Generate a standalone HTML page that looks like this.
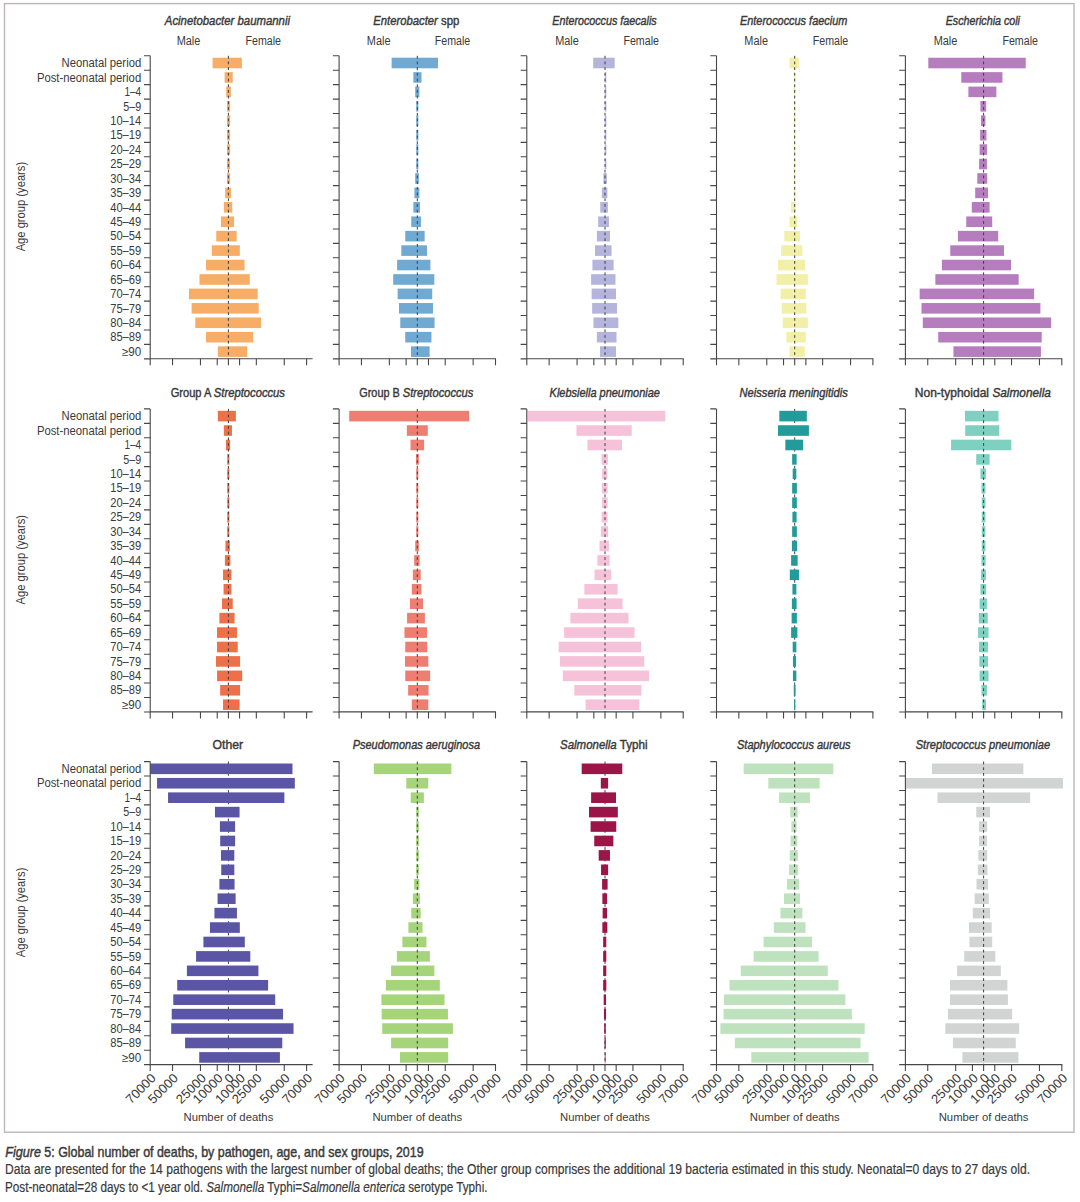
<!DOCTYPE html><html><head><meta charset="utf-8"><style>html,body{margin:0;padding:0;background:#fff;width:1080px;height:1202px;overflow:hidden}svg{display:block}text{font-family:"Liberation Sans",sans-serif;fill:#3a3a3a}.rg{stroke:#3a3a3a;stroke-width:0.25}</style></head><body>
<svg width="1080" height="1202" viewBox="0 0 1080 1202">
<rect x="4.5" y="3.6" width="1069.5" height="1128.6" fill="none" stroke="#BDB6B9" stroke-width="1.4"/>
<rect x="212.58" y="57.71" width="29.34" height="10.60" fill="#F7AD65"/>
<rect x="224.63" y="72.14" width="8.12" height="10.60" fill="#F7AD65"/>
<rect x="226.20" y="86.58" width="4.72" height="10.60" fill="#F7AD65"/>
<rect x="226.99" y="101.01" width="3.14" height="10.60" fill="#F7AD65"/>
<rect x="226.99" y="115.44" width="3.14" height="10.60" fill="#F7AD65"/>
<rect x="226.99" y="129.87" width="3.14" height="10.60" fill="#F7AD65"/>
<rect x="226.99" y="144.29" width="3.14" height="10.60" fill="#F7AD65"/>
<rect x="226.99" y="158.72" width="3.14" height="10.60" fill="#F7AD65"/>
<rect x="226.99" y="173.16" width="3.14" height="10.60" fill="#F7AD65"/>
<rect x="225.16" y="187.59" width="5.76" height="10.60" fill="#F7AD65"/>
<rect x="223.85" y="202.02" width="8.38" height="10.60" fill="#F7AD65"/>
<rect x="220.96" y="216.44" width="13.10" height="10.60" fill="#F7AD65"/>
<rect x="216.25" y="230.87" width="20.43" height="10.60" fill="#F7AD65"/>
<rect x="211.80" y="245.30" width="28.03" height="10.60" fill="#F7AD65"/>
<rect x="206.03" y="259.74" width="38.51" height="10.60" fill="#F7AD65"/>
<rect x="199.48" y="274.17" width="50.29" height="10.60" fill="#F7AD65"/>
<rect x="189.01" y="288.60" width="68.63" height="10.60" fill="#F7AD65"/>
<rect x="191.63" y="303.03" width="67.06" height="10.60" fill="#F7AD65"/>
<rect x="195.29" y="317.46" width="65.75" height="10.60" fill="#F7AD65"/>
<rect x="206.03" y="331.89" width="47.15" height="10.60" fill="#F7AD65"/>
<rect x="217.82" y="346.32" width="29.34" height="10.60" fill="#F7AD65"/>
<line x1="228.40" y1="55.80" x2="228.40" y2="358.80" stroke="#3d3d3d" stroke-width="1" stroke-dasharray="2.8 2.9"/>
<path d="M150.20 55.80V358.80H312.60" fill="none" stroke="#474747" stroke-width="1.1"/>
<path d="M144.00 55.80H150.20M144.00 70.23H150.20M144.00 84.66H150.20M144.00 99.09H150.20M144.00 113.52H150.20M144.00 127.95H150.20M144.00 142.38H150.20M144.00 156.81H150.20M144.00 171.24H150.20M144.00 185.67H150.20M144.00 200.10H150.20M144.00 214.53H150.20M144.00 228.96H150.20M144.00 243.39H150.20M144.00 257.82H150.20M144.00 272.25H150.20M144.00 286.68H150.20M144.00 301.11H150.20M144.00 315.54H150.20M144.00 329.97H150.20M144.00 344.40H150.20M144.00 358.83H150.20M150.20 358.80V365.30M172.54 358.80V365.30M200.47 358.80V365.30M217.23 358.80V365.30M228.40 358.80V365.30M239.57 358.80V365.30M256.33 358.80V365.30M284.26 358.80V365.30M306.60 358.80V365.30" fill="none" stroke="#474747" stroke-width="1.1"/>
<text x="164.80" y="24.60" font-size="12.4" font-weight="normal" font-style="italic" textLength="125.20" lengthAdjust="spacingAndGlyphs" xml:space="preserve" stroke="#3a3a3a" stroke-width="0.42">Acinetobacter baumannii</text>
<text x="176.65" y="44.8" font-size="12" textLength="23.7" lengthAdjust="spacingAndGlyphs">Male</text>
<text x="245.55" y="44.8" font-size="12" textLength="35.5" lengthAdjust="spacingAndGlyphs">Female</text>
<text x="61.50" y="67.22" font-size="12" textLength="79.70" lengthAdjust="spacingAndGlyphs">Neonatal period</text>
<text x="36.90" y="81.64" font-size="12" textLength="104.30" lengthAdjust="spacingAndGlyphs">Post-neonatal period</text>
<text x="124.40" y="96.08" font-size="12" textLength="16.80" lengthAdjust="spacingAndGlyphs">1–4</text>
<text x="123.30" y="110.51" font-size="12" textLength="17.90" lengthAdjust="spacingAndGlyphs">5–9</text>
<text x="110.20" y="124.94" font-size="12" textLength="31.00" lengthAdjust="spacingAndGlyphs">10–14</text>
<text x="110.20" y="139.36" font-size="12" textLength="31.00" lengthAdjust="spacingAndGlyphs">15–19</text>
<text x="110.20" y="153.79" font-size="12" textLength="31.00" lengthAdjust="spacingAndGlyphs">20–24</text>
<text x="110.20" y="168.22" font-size="12" textLength="31.00" lengthAdjust="spacingAndGlyphs">25–29</text>
<text x="110.20" y="182.66" font-size="12" textLength="31.00" lengthAdjust="spacingAndGlyphs">30–34</text>
<text x="110.20" y="197.09" font-size="12" textLength="31.00" lengthAdjust="spacingAndGlyphs">35–39</text>
<text x="110.20" y="211.52" font-size="12" textLength="31.00" lengthAdjust="spacingAndGlyphs">40–44</text>
<text x="110.20" y="225.94" font-size="12" textLength="31.00" lengthAdjust="spacingAndGlyphs">45–49</text>
<text x="110.20" y="240.37" font-size="12" textLength="31.00" lengthAdjust="spacingAndGlyphs">50–54</text>
<text x="110.20" y="254.80" font-size="12" textLength="31.00" lengthAdjust="spacingAndGlyphs">55–59</text>
<text x="110.20" y="269.23" font-size="12" textLength="31.00" lengthAdjust="spacingAndGlyphs">60–64</text>
<text x="110.20" y="283.66" font-size="12" textLength="31.00" lengthAdjust="spacingAndGlyphs">65–69</text>
<text x="110.20" y="298.09" font-size="12" textLength="31.00" lengthAdjust="spacingAndGlyphs">70–74</text>
<text x="110.20" y="312.52" font-size="12" textLength="31.00" lengthAdjust="spacingAndGlyphs">75–79</text>
<text x="110.20" y="326.95" font-size="12" textLength="31.00" lengthAdjust="spacingAndGlyphs">80–84</text>
<text x="110.20" y="341.38" font-size="12" textLength="31.00" lengthAdjust="spacingAndGlyphs">85–89</text>
<text x="121.90" y="355.81" font-size="12" textLength="19.30" lengthAdjust="spacingAndGlyphs">≥90</text>
<text transform="translate(25.4 206.60) rotate(-90)" font-size="12" text-anchor="middle" textLength="89.5" lengthAdjust="spacingAndGlyphs">Age group (years)</text>
<rect x="391.63" y="57.71" width="46.36" height="10.60" fill="#70AAD2"/>
<rect x="413.37" y="72.14" width="8.12" height="10.60" fill="#70AAD2"/>
<rect x="415.20" y="86.58" width="4.19" height="10.60" fill="#70AAD2"/>
<rect x="416.25" y="101.01" width="2.10" height="10.60" fill="#70AAD2"/>
<rect x="416.25" y="115.44" width="2.10" height="10.60" fill="#70AAD2"/>
<rect x="416.25" y="129.87" width="2.10" height="10.60" fill="#70AAD2"/>
<rect x="416.25" y="144.29" width="2.10" height="10.60" fill="#70AAD2"/>
<rect x="416.25" y="158.72" width="2.10" height="10.60" fill="#70AAD2"/>
<rect x="415.20" y="173.16" width="3.67" height="10.60" fill="#70AAD2"/>
<rect x="414.42" y="187.59" width="4.98" height="10.60" fill="#70AAD2"/>
<rect x="413.37" y="202.02" width="6.55" height="10.60" fill="#70AAD2"/>
<rect x="411.27" y="216.44" width="9.69" height="10.60" fill="#70AAD2"/>
<rect x="405.25" y="230.87" width="19.38" height="10.60" fill="#70AAD2"/>
<rect x="401.32" y="245.30" width="25.67" height="10.60" fill="#70AAD2"/>
<rect x="397.13" y="259.74" width="33.27" height="10.60" fill="#70AAD2"/>
<rect x="393.20" y="274.17" width="41.13" height="10.60" fill="#70AAD2"/>
<rect x="397.65" y="288.60" width="34.58" height="10.60" fill="#70AAD2"/>
<rect x="398.96" y="303.03" width="34.05" height="10.60" fill="#70AAD2"/>
<rect x="400.27" y="317.46" width="34.31" height="10.60" fill="#70AAD2"/>
<rect x="405.25" y="331.89" width="26.19" height="10.60" fill="#70AAD2"/>
<rect x="411.01" y="346.32" width="18.60" height="10.60" fill="#70AAD2"/>
<line x1="417.30" y1="55.80" x2="417.30" y2="358.80" stroke="#3d3d3d" stroke-width="1" stroke-dasharray="2.8 2.9"/>
<path d="M339.10 55.80V358.80H496.00" fill="none" stroke="#474747" stroke-width="1.1"/>
<path d="M332.90 55.80H339.10M332.90 70.23H339.10M332.90 84.66H339.10M332.90 99.09H339.10M332.90 113.52H339.10M332.90 127.95H339.10M332.90 142.38H339.10M332.90 156.81H339.10M332.90 171.24H339.10M332.90 185.67H339.10M332.90 200.10H339.10M332.90 214.53H339.10M332.90 228.96H339.10M332.90 243.39H339.10M332.90 257.82H339.10M332.90 272.25H339.10M332.90 286.68H339.10M332.90 301.11H339.10M332.90 315.54H339.10M332.90 329.97H339.10M332.90 344.40H339.10M332.90 358.83H339.10M339.10 358.80V365.30M361.44 358.80V365.30M389.37 358.80V365.30M406.13 358.80V365.30M417.30 358.80V365.30M428.47 358.80V365.30M445.23 358.80V365.30M473.16 358.80V365.30M495.50 358.80V365.30" fill="none" stroke="#474747" stroke-width="1.1"/>
<text x="373.30" y="24.60" font-size="12.4" font-weight="normal" font-style="italic" textLength="64.50" lengthAdjust="spacingAndGlyphs" xml:space="preserve" stroke="#3a3a3a" stroke-width="0.42">Enterobacter</text><text x="437.80" y="24.60" font-size="12.4" font-weight="normal" font-style="normal" textLength="21.50" lengthAdjust="spacingAndGlyphs" xml:space="preserve" stroke="#3a3a3a" stroke-width="0.42"> spp</text>
<text x="366.85" y="44.8" font-size="12" textLength="23.7" lengthAdjust="spacingAndGlyphs">Male</text>
<text x="434.75" y="44.8" font-size="12" textLength="35.5" lengthAdjust="spacingAndGlyphs">Female</text>
<rect x="593.20" y="57.71" width="21.48" height="10.60" fill="#B4B4DC"/>
<rect x="604.73" y="72.14" width="1.57" height="10.60" fill="#B4B4DC"/>
<rect x="604.73" y="86.58" width="1.57" height="10.60" fill="#B4B4DC"/>
<rect x="604.73" y="101.01" width="1.57" height="10.60" fill="#B4B4DC"/>
<rect x="604.73" y="115.44" width="1.57" height="10.60" fill="#B4B4DC"/>
<rect x="604.73" y="129.87" width="1.57" height="10.60" fill="#B4B4DC"/>
<rect x="604.73" y="144.29" width="1.57" height="10.60" fill="#B4B4DC"/>
<rect x="604.73" y="158.72" width="1.57" height="10.60" fill="#B4B4DC"/>
<rect x="603.42" y="173.16" width="3.41" height="10.60" fill="#B4B4DC"/>
<rect x="601.85" y="187.59" width="5.50" height="10.60" fill="#B4B4DC"/>
<rect x="600.27" y="202.02" width="7.60" height="10.60" fill="#B4B4DC"/>
<rect x="598.18" y="216.44" width="10.74" height="10.60" fill="#B4B4DC"/>
<rect x="596.87" y="230.87" width="13.10" height="10.60" fill="#B4B4DC"/>
<rect x="595.03" y="245.30" width="16.50" height="10.60" fill="#B4B4DC"/>
<rect x="592.42" y="259.74" width="21.22" height="10.60" fill="#B4B4DC"/>
<rect x="591.11" y="274.17" width="24.36" height="10.60" fill="#B4B4DC"/>
<rect x="591.63" y="288.60" width="24.36" height="10.60" fill="#B4B4DC"/>
<rect x="592.15" y="303.03" width="24.88" height="10.60" fill="#B4B4DC"/>
<rect x="593.46" y="317.46" width="24.88" height="10.60" fill="#B4B4DC"/>
<rect x="596.87" y="331.89" width="19.65" height="10.60" fill="#B4B4DC"/>
<rect x="600.01" y="346.32" width="15.98" height="10.60" fill="#B4B4DC"/>
<line x1="605.00" y1="55.80" x2="605.00" y2="358.80" stroke="#3d3d3d" stroke-width="1" stroke-dasharray="2.8 2.9"/>
<path d="M526.80 55.80V358.80H683.70" fill="none" stroke="#474747" stroke-width="1.1"/>
<path d="M520.60 55.80H526.80M520.60 70.23H526.80M520.60 84.66H526.80M520.60 99.09H526.80M520.60 113.52H526.80M520.60 127.95H526.80M520.60 142.38H526.80M520.60 156.81H526.80M520.60 171.24H526.80M520.60 185.67H526.80M520.60 200.10H526.80M520.60 214.53H526.80M520.60 228.96H526.80M520.60 243.39H526.80M520.60 257.82H526.80M520.60 272.25H526.80M520.60 286.68H526.80M520.60 301.11H526.80M520.60 315.54H526.80M520.60 329.97H526.80M520.60 344.40H526.80M520.60 358.83H526.80M526.80 358.80V365.30M549.14 358.80V365.30M577.07 358.80V365.30M593.83 358.80V365.30M605.00 358.80V365.30M616.17 358.80V365.30M632.93 358.80V365.30M660.86 358.80V365.30M683.20 358.80V365.30" fill="none" stroke="#474747" stroke-width="1.1"/>
<text x="552.30" y="24.60" font-size="12.4" font-weight="normal" font-style="italic" textLength="104.40" lengthAdjust="spacingAndGlyphs" xml:space="preserve" stroke="#3a3a3a" stroke-width="0.42">Enterococcus faecalis</text>
<text x="555.15" y="44.8" font-size="12" textLength="23.7" lengthAdjust="spacingAndGlyphs">Male</text>
<text x="623.45" y="44.8" font-size="12" textLength="35.5" lengthAdjust="spacingAndGlyphs">Female</text>
<rect x="789.54" y="57.71" width="9.43" height="10.60" fill="#F2F0A6"/>
<rect x="793.73" y="72.14" width="1.57" height="10.60" fill="#F2F0A6"/>
<rect x="793.73" y="86.58" width="1.57" height="10.60" fill="#F2F0A6"/>
<rect x="793.73" y="101.01" width="1.57" height="10.60" fill="#F2F0A6"/>
<rect x="793.73" y="115.44" width="1.57" height="10.60" fill="#F2F0A6"/>
<rect x="793.73" y="129.87" width="1.57" height="10.60" fill="#F2F0A6"/>
<rect x="793.73" y="144.29" width="1.57" height="10.60" fill="#F2F0A6"/>
<rect x="793.73" y="158.72" width="1.57" height="10.60" fill="#F2F0A6"/>
<rect x="793.73" y="173.16" width="1.57" height="10.60" fill="#F2F0A6"/>
<rect x="793.73" y="187.59" width="1.57" height="10.60" fill="#F2F0A6"/>
<rect x="791.11" y="202.02" width="4.72" height="10.60" fill="#F2F0A6"/>
<rect x="789.54" y="216.44" width="7.60" height="10.60" fill="#F2F0A6"/>
<rect x="784.30" y="230.87" width="15.72" height="10.60" fill="#F2F0A6"/>
<rect x="781.15" y="245.30" width="21.22" height="10.60" fill="#F2F0A6"/>
<rect x="778.01" y="259.74" width="26.98" height="10.60" fill="#F2F0A6"/>
<rect x="776.44" y="274.17" width="31.43" height="10.60" fill="#F2F0A6"/>
<rect x="780.63" y="288.60" width="25.15" height="10.60" fill="#F2F0A6"/>
<rect x="781.68" y="303.03" width="24.62" height="10.60" fill="#F2F0A6"/>
<rect x="782.73" y="317.46" width="25.15" height="10.60" fill="#F2F0A6"/>
<rect x="786.39" y="331.89" width="19.38" height="10.60" fill="#F2F0A6"/>
<rect x="789.54" y="346.32" width="15.19" height="10.60" fill="#F2F0A6"/>
<line x1="794.70" y1="55.80" x2="794.70" y2="358.80" stroke="#3d3d3d" stroke-width="1" stroke-dasharray="2.8 2.9"/>
<path d="M716.50 55.80V358.80H873.40" fill="none" stroke="#474747" stroke-width="1.1"/>
<path d="M710.30 55.80H716.50M710.30 70.23H716.50M710.30 84.66H716.50M710.30 99.09H716.50M710.30 113.52H716.50M710.30 127.95H716.50M710.30 142.38H716.50M710.30 156.81H716.50M710.30 171.24H716.50M710.30 185.67H716.50M710.30 200.10H716.50M710.30 214.53H716.50M710.30 228.96H716.50M710.30 243.39H716.50M710.30 257.82H716.50M710.30 272.25H716.50M710.30 286.68H716.50M710.30 301.11H716.50M710.30 315.54H716.50M710.30 329.97H716.50M710.30 344.40H716.50M710.30 358.83H716.50M716.50 358.80V365.30M738.84 358.80V365.30M766.77 358.80V365.30M783.53 358.80V365.30M794.70 358.80V365.30M805.87 358.80V365.30M822.63 358.80V365.30M850.56 358.80V365.30M872.90 358.80V365.30" fill="none" stroke="#474747" stroke-width="1.1"/>
<text x="740.00" y="24.60" font-size="12.4" font-weight="normal" font-style="italic" textLength="107.30" lengthAdjust="spacingAndGlyphs" xml:space="preserve" stroke="#3a3a3a" stroke-width="0.42">Enterococcus faecium</text>
<text x="744.35" y="44.8" font-size="12" textLength="23.7" lengthAdjust="spacingAndGlyphs">Male</text>
<text x="812.75" y="44.8" font-size="12" textLength="35.5" lengthAdjust="spacingAndGlyphs">Female</text>
<rect x="928.29" y="57.71" width="97.44" height="10.60" fill="#B57DBE"/>
<rect x="961.30" y="72.14" width="41.13" height="10.60" fill="#B57DBE"/>
<rect x="968.37" y="86.58" width="28.03" height="10.60" fill="#B57DBE"/>
<rect x="980.42" y="101.01" width="5.76" height="10.60" fill="#B57DBE"/>
<rect x="980.94" y="115.44" width="4.45" height="10.60" fill="#B57DBE"/>
<rect x="980.16" y="129.87" width="6.29" height="10.60" fill="#B57DBE"/>
<rect x="979.63" y="144.29" width="7.33" height="10.60" fill="#B57DBE"/>
<rect x="979.11" y="158.72" width="7.86" height="10.60" fill="#B57DBE"/>
<rect x="977.27" y="173.16" width="9.95" height="10.60" fill="#B57DBE"/>
<rect x="975.18" y="187.59" width="12.84" height="10.60" fill="#B57DBE"/>
<rect x="971.77" y="202.02" width="17.81" height="10.60" fill="#B57DBE"/>
<rect x="966.27" y="216.44" width="25.93" height="10.60" fill="#B57DBE"/>
<rect x="957.89" y="230.87" width="40.34" height="10.60" fill="#B57DBE"/>
<rect x="950.29" y="245.30" width="53.70" height="10.60" fill="#B57DBE"/>
<rect x="941.91" y="259.74" width="69.15" height="10.60" fill="#B57DBE"/>
<rect x="935.36" y="274.17" width="83.30" height="10.60" fill="#B57DBE"/>
<rect x="919.65" y="288.60" width="114.47" height="10.60" fill="#B57DBE"/>
<rect x="921.48" y="303.03" width="118.92" height="10.60" fill="#B57DBE"/>
<rect x="922.79" y="317.46" width="128.35" height="10.60" fill="#B57DBE"/>
<rect x="938.24" y="331.89" width="103.47" height="10.60" fill="#B57DBE"/>
<rect x="953.44" y="346.32" width="87.49" height="10.60" fill="#B57DBE"/>
<line x1="983.60" y1="55.80" x2="983.60" y2="358.80" stroke="#3d3d3d" stroke-width="1" stroke-dasharray="2.8 2.9"/>
<path d="M905.40 55.80V358.80H1062.30" fill="none" stroke="#474747" stroke-width="1.1"/>
<path d="M899.20 55.80H905.40M899.20 70.23H905.40M899.20 84.66H905.40M899.20 99.09H905.40M899.20 113.52H905.40M899.20 127.95H905.40M899.20 142.38H905.40M899.20 156.81H905.40M899.20 171.24H905.40M899.20 185.67H905.40M899.20 200.10H905.40M899.20 214.53H905.40M899.20 228.96H905.40M899.20 243.39H905.40M899.20 257.82H905.40M899.20 272.25H905.40M899.20 286.68H905.40M899.20 301.11H905.40M899.20 315.54H905.40M899.20 329.97H905.40M899.20 344.40H905.40M899.20 358.83H905.40M905.40 358.80V365.30M927.74 358.80V365.30M955.67 358.80V365.30M972.43 358.80V365.30M983.60 358.80V365.30M994.77 358.80V365.30M1011.53 358.80V365.30M1039.46 358.80V365.30M1061.80 358.80V365.30" fill="none" stroke="#474747" stroke-width="1.1"/>
<text x="945.70" y="24.60" font-size="12.4" font-weight="normal" font-style="italic" textLength="74.30" lengthAdjust="spacingAndGlyphs" xml:space="preserve" stroke="#3a3a3a" stroke-width="0.42">Escherichia coli</text>
<text x="933.65" y="44.8" font-size="12" textLength="23.7" lengthAdjust="spacingAndGlyphs">Male</text>
<text x="1002.45" y="44.8" font-size="12" textLength="35.5" lengthAdjust="spacingAndGlyphs">Female</text>
<rect x="217.82" y="410.81" width="18.07" height="10.60" fill="#EE7049"/>
<rect x="223.85" y="425.25" width="8.12" height="10.60" fill="#EE7049"/>
<rect x="225.94" y="439.68" width="4.19" height="10.60" fill="#EE7049"/>
<rect x="227.25" y="454.11" width="2.10" height="10.60" fill="#EE7049"/>
<rect x="227.25" y="468.54" width="2.10" height="10.60" fill="#EE7049"/>
<rect x="227.25" y="482.96" width="2.10" height="10.60" fill="#EE7049"/>
<rect x="227.25" y="497.39" width="2.10" height="10.60" fill="#EE7049"/>
<rect x="227.25" y="511.82" width="2.10" height="10.60" fill="#EE7049"/>
<rect x="227.25" y="526.25" width="2.10" height="10.60" fill="#EE7049"/>
<rect x="225.42" y="540.68" width="4.45" height="10.60" fill="#EE7049"/>
<rect x="224.89" y="555.12" width="5.50" height="10.60" fill="#EE7049"/>
<rect x="223.06" y="569.54" width="8.38" height="10.60" fill="#EE7049"/>
<rect x="223.58" y="583.97" width="7.86" height="10.60" fill="#EE7049"/>
<rect x="222.01" y="598.40" width="10.74" height="10.60" fill="#EE7049"/>
<rect x="219.39" y="612.83" width="15.19" height="10.60" fill="#EE7049"/>
<rect x="217.03" y="627.26" width="19.91" height="10.60" fill="#EE7049"/>
<rect x="217.03" y="641.69" width="20.69" height="10.60" fill="#EE7049"/>
<rect x="215.99" y="656.12" width="24.10" height="10.60" fill="#EE7049"/>
<rect x="217.03" y="670.55" width="25.15" height="10.60" fill="#EE7049"/>
<rect x="220.18" y="684.98" width="19.91" height="10.60" fill="#EE7049"/>
<rect x="223.06" y="699.41" width="16.50" height="10.60" fill="#EE7049"/>
<line x1="228.40" y1="408.90" x2="228.40" y2="711.90" stroke="#3d3d3d" stroke-width="1" stroke-dasharray="2.8 2.9"/>
<path d="M150.20 408.90V711.90H312.60" fill="none" stroke="#474747" stroke-width="1.1"/>
<path d="M144.00 408.90H150.20M144.00 423.33H150.20M144.00 437.76H150.20M144.00 452.19H150.20M144.00 466.62H150.20M144.00 481.05H150.20M144.00 495.48H150.20M144.00 509.91H150.20M144.00 524.34H150.20M144.00 538.77H150.20M144.00 553.20H150.20M144.00 567.63H150.20M144.00 582.06H150.20M144.00 596.49H150.20M144.00 610.92H150.20M144.00 625.35H150.20M144.00 639.78H150.20M144.00 654.21H150.20M144.00 668.64H150.20M144.00 683.07H150.20M144.00 697.50H150.20M144.00 711.93H150.20M150.20 711.90V718.40M172.54 711.90V718.40M200.47 711.90V718.40M217.23 711.90V718.40M228.40 711.90V718.40M239.57 711.90V718.40M256.33 711.90V718.40M284.26 711.90V718.40M306.60 711.90V718.40" fill="none" stroke="#474747" stroke-width="1.1"/>
<text x="170.70" y="396.70" font-size="12.4" font-weight="normal" font-style="normal" textLength="43.09" lengthAdjust="spacingAndGlyphs" xml:space="preserve" stroke="#3a3a3a" stroke-width="0.42">Group A </text><text x="213.79" y="396.70" font-size="12.4" font-weight="normal" font-style="italic" textLength="71.21" lengthAdjust="spacingAndGlyphs" xml:space="preserve" stroke="#3a3a3a" stroke-width="0.42">Streptococcus</text>
<text x="61.50" y="420.31" font-size="12" textLength="79.70" lengthAdjust="spacingAndGlyphs">Neonatal period</text>
<text x="36.90" y="434.74" font-size="12" textLength="104.30" lengthAdjust="spacingAndGlyphs">Post-neonatal period</text>
<text x="124.40" y="449.17" font-size="12" textLength="16.80" lengthAdjust="spacingAndGlyphs">1–4</text>
<text x="123.30" y="463.60" font-size="12" textLength="17.90" lengthAdjust="spacingAndGlyphs">5–9</text>
<text x="110.20" y="478.03" font-size="12" textLength="31.00" lengthAdjust="spacingAndGlyphs">10–14</text>
<text x="110.20" y="492.46" font-size="12" textLength="31.00" lengthAdjust="spacingAndGlyphs">15–19</text>
<text x="110.20" y="506.89" font-size="12" textLength="31.00" lengthAdjust="spacingAndGlyphs">20–24</text>
<text x="110.20" y="521.33" font-size="12" textLength="31.00" lengthAdjust="spacingAndGlyphs">25–29</text>
<text x="110.20" y="535.75" font-size="12" textLength="31.00" lengthAdjust="spacingAndGlyphs">30–34</text>
<text x="110.20" y="550.19" font-size="12" textLength="31.00" lengthAdjust="spacingAndGlyphs">35–39</text>
<text x="110.20" y="564.62" font-size="12" textLength="31.00" lengthAdjust="spacingAndGlyphs">40–44</text>
<text x="110.20" y="579.05" font-size="12" textLength="31.00" lengthAdjust="spacingAndGlyphs">45–49</text>
<text x="110.20" y="593.48" font-size="12" textLength="31.00" lengthAdjust="spacingAndGlyphs">50–54</text>
<text x="110.20" y="607.91" font-size="12" textLength="31.00" lengthAdjust="spacingAndGlyphs">55–59</text>
<text x="110.20" y="622.34" font-size="12" textLength="31.00" lengthAdjust="spacingAndGlyphs">60–64</text>
<text x="110.20" y="636.76" font-size="12" textLength="31.00" lengthAdjust="spacingAndGlyphs">65–69</text>
<text x="110.20" y="651.20" font-size="12" textLength="31.00" lengthAdjust="spacingAndGlyphs">70–74</text>
<text x="110.20" y="665.63" font-size="12" textLength="31.00" lengthAdjust="spacingAndGlyphs">75–79</text>
<text x="110.20" y="680.06" font-size="12" textLength="31.00" lengthAdjust="spacingAndGlyphs">80–84</text>
<text x="110.20" y="694.49" font-size="12" textLength="31.00" lengthAdjust="spacingAndGlyphs">85–89</text>
<text x="121.90" y="708.92" font-size="12" textLength="19.30" lengthAdjust="spacingAndGlyphs">≥90</text>
<text transform="translate(25.4 559.70) rotate(-90)" font-size="12" text-anchor="middle" textLength="89.5" lengthAdjust="spacingAndGlyphs">Age group (years)</text>
<rect x="349.19" y="410.81" width="119.97" height="10.60" fill="#EE7E72"/>
<rect x="406.82" y="425.25" width="20.96" height="10.60" fill="#EE7E72"/>
<rect x="410.49" y="439.68" width="13.62" height="10.60" fill="#EE7E72"/>
<rect x="415.99" y="454.11" width="2.88" height="10.60" fill="#EE7E72"/>
<rect x="416.25" y="468.54" width="2.10" height="10.60" fill="#EE7E72"/>
<rect x="416.25" y="482.96" width="2.10" height="10.60" fill="#EE7E72"/>
<rect x="416.25" y="497.39" width="2.10" height="10.60" fill="#EE7E72"/>
<rect x="416.25" y="511.82" width="2.10" height="10.60" fill="#EE7E72"/>
<rect x="416.25" y="526.25" width="2.10" height="10.60" fill="#EE7E72"/>
<rect x="415.20" y="540.68" width="3.67" height="10.60" fill="#EE7E72"/>
<rect x="414.16" y="555.12" width="5.50" height="10.60" fill="#EE7E72"/>
<rect x="412.85" y="569.54" width="7.86" height="10.60" fill="#EE7E72"/>
<rect x="411.80" y="583.97" width="9.69" height="10.60" fill="#EE7E72"/>
<rect x="409.96" y="598.40" width="13.10" height="10.60" fill="#EE7E72"/>
<rect x="407.08" y="612.83" width="17.81" height="10.60" fill="#EE7E72"/>
<rect x="404.46" y="627.26" width="22.53" height="10.60" fill="#EE7E72"/>
<rect x="405.25" y="641.69" width="22.00" height="10.60" fill="#EE7E72"/>
<rect x="404.99" y="656.12" width="23.31" height="10.60" fill="#EE7E72"/>
<rect x="405.25" y="670.55" width="24.88" height="10.60" fill="#EE7E72"/>
<rect x="408.13" y="684.98" width="20.43" height="10.60" fill="#EE7E72"/>
<rect x="411.80" y="699.41" width="16.50" height="10.60" fill="#EE7E72"/>
<line x1="417.30" y1="408.90" x2="417.30" y2="711.90" stroke="#3d3d3d" stroke-width="1" stroke-dasharray="2.8 2.9"/>
<path d="M339.10 408.90V711.90H496.00" fill="none" stroke="#474747" stroke-width="1.1"/>
<path d="M332.90 408.90H339.10M332.90 423.33H339.10M332.90 437.76H339.10M332.90 452.19H339.10M332.90 466.62H339.10M332.90 481.05H339.10M332.90 495.48H339.10M332.90 509.91H339.10M332.90 524.34H339.10M332.90 538.77H339.10M332.90 553.20H339.10M332.90 567.63H339.10M332.90 582.06H339.10M332.90 596.49H339.10M332.90 610.92H339.10M332.90 625.35H339.10M332.90 639.78H339.10M332.90 654.21H339.10M332.90 668.64H339.10M332.90 683.07H339.10M332.90 697.50H339.10M332.90 711.93H339.10M339.10 711.90V718.40M361.44 711.90V718.40M389.37 711.90V718.40M406.13 711.90V718.40M417.30 711.90V718.40M428.47 711.90V718.40M445.23 711.90V718.40M473.16 711.90V718.40M495.50 711.90V718.40" fill="none" stroke="#474747" stroke-width="1.1"/>
<text x="359.30" y="396.70" font-size="12.4" font-weight="normal" font-style="normal" textLength="43.45" lengthAdjust="spacingAndGlyphs" xml:space="preserve" stroke="#3a3a3a" stroke-width="0.42">Group B </text><text x="402.75" y="396.70" font-size="12.4" font-weight="normal" font-style="italic" textLength="70.55" lengthAdjust="spacingAndGlyphs" xml:space="preserve" stroke="#3a3a3a" stroke-width="0.42">Streptococcus</text>
<rect x="527.72" y="410.81" width="137.52" height="10.60" fill="#F6C2DA"/>
<rect x="576.44" y="425.25" width="55.27" height="10.60" fill="#F6C2DA"/>
<rect x="587.44" y="439.68" width="34.58" height="10.60" fill="#F6C2DA"/>
<rect x="601.58" y="454.11" width="6.29" height="10.60" fill="#F6C2DA"/>
<rect x="602.11" y="468.54" width="5.24" height="10.60" fill="#F6C2DA"/>
<rect x="601.85" y="482.96" width="5.76" height="10.60" fill="#F6C2DA"/>
<rect x="601.85" y="497.39" width="5.76" height="10.60" fill="#F6C2DA"/>
<rect x="601.58" y="511.82" width="6.02" height="10.60" fill="#F6C2DA"/>
<rect x="600.80" y="526.25" width="7.33" height="10.60" fill="#F6C2DA"/>
<rect x="599.49" y="540.68" width="9.43" height="10.60" fill="#F6C2DA"/>
<rect x="597.39" y="555.12" width="12.31" height="10.60" fill="#F6C2DA"/>
<rect x="594.51" y="569.54" width="16.76" height="10.60" fill="#F6C2DA"/>
<rect x="584.30" y="583.97" width="33.27" height="10.60" fill="#F6C2DA"/>
<rect x="577.75" y="598.40" width="44.79" height="10.60" fill="#F6C2DA"/>
<rect x="570.41" y="612.83" width="58.15" height="10.60" fill="#F6C2DA"/>
<rect x="564.13" y="627.26" width="70.46" height="10.60" fill="#F6C2DA"/>
<rect x="558.62" y="641.69" width="82.51" height="10.60" fill="#F6C2DA"/>
<rect x="559.93" y="656.12" width="84.35" height="10.60" fill="#F6C2DA"/>
<rect x="562.82" y="670.55" width="86.18" height="10.60" fill="#F6C2DA"/>
<rect x="574.34" y="684.98" width="67.06" height="10.60" fill="#F6C2DA"/>
<rect x="585.60" y="699.41" width="53.70" height="10.60" fill="#F6C2DA"/>
<line x1="605.00" y1="408.90" x2="605.00" y2="711.90" stroke="#3d3d3d" stroke-width="1" stroke-dasharray="2.8 2.9"/>
<path d="M526.80 408.90V711.90H683.70" fill="none" stroke="#474747" stroke-width="1.1"/>
<path d="M520.60 408.90H526.80M520.60 423.33H526.80M520.60 437.76H526.80M520.60 452.19H526.80M520.60 466.62H526.80M520.60 481.05H526.80M520.60 495.48H526.80M520.60 509.91H526.80M520.60 524.34H526.80M520.60 538.77H526.80M520.60 553.20H526.80M520.60 567.63H526.80M520.60 582.06H526.80M520.60 596.49H526.80M520.60 610.92H526.80M520.60 625.35H526.80M520.60 639.78H526.80M520.60 654.21H526.80M520.60 668.64H526.80M520.60 683.07H526.80M520.60 697.50H526.80M520.60 711.93H526.80M526.80 711.90V718.40M549.14 711.90V718.40M577.07 711.90V718.40M593.83 711.90V718.40M605.00 711.90V718.40M616.17 711.90V718.40M632.93 711.90V718.40M660.86 711.90V718.40M683.20 711.90V718.40" fill="none" stroke="#474747" stroke-width="1.1"/>
<text x="549.60" y="396.70" font-size="12.4" font-weight="normal" font-style="italic" textLength="110.30" lengthAdjust="spacingAndGlyphs" xml:space="preserve" stroke="#3a3a3a" stroke-width="0.42">Klebsiella pneumoniae</text>
<line x1="794.70" y1="408.90" x2="794.70" y2="711.90" stroke="#3d3d3d" stroke-width="1" stroke-dasharray="2.8 2.9"/>
<rect x="779.32" y="410.81" width="27.50" height="10.60" fill="#229C9A"/>
<rect x="778.01" y="425.25" width="30.91" height="10.60" fill="#229C9A"/>
<rect x="785.34" y="439.68" width="17.81" height="10.60" fill="#229C9A"/>
<rect x="792.16" y="454.11" width="4.45" height="10.60" fill="#229C9A"/>
<rect x="792.68" y="468.54" width="3.67" height="10.60" fill="#229C9A"/>
<rect x="792.16" y="482.96" width="4.72" height="10.60" fill="#229C9A"/>
<rect x="792.16" y="497.39" width="4.72" height="10.60" fill="#229C9A"/>
<rect x="792.42" y="511.82" width="4.19" height="10.60" fill="#229C9A"/>
<rect x="792.16" y="526.25" width="4.72" height="10.60" fill="#229C9A"/>
<rect x="791.89" y="540.68" width="5.24" height="10.60" fill="#229C9A"/>
<rect x="791.11" y="555.12" width="6.55" height="10.60" fill="#229C9A"/>
<rect x="789.80" y="569.54" width="9.17" height="10.60" fill="#229C9A"/>
<rect x="792.42" y="583.97" width="3.93" height="10.60" fill="#229C9A"/>
<rect x="791.89" y="598.40" width="4.72" height="10.60" fill="#229C9A"/>
<rect x="791.63" y="612.83" width="5.24" height="10.60" fill="#229C9A"/>
<rect x="791.11" y="627.26" width="6.29" height="10.60" fill="#229C9A"/>
<rect x="792.68" y="641.69" width="3.67" height="10.60" fill="#229C9A"/>
<rect x="792.94" y="656.12" width="3.14" height="10.60" fill="#229C9A"/>
<rect x="792.94" y="670.55" width="3.41" height="10.60" fill="#229C9A"/>
<rect x="793.73" y="684.98" width="1.83" height="10.60" fill="#229C9A"/>
<rect x="793.99" y="699.41" width="1.31" height="10.60" fill="#229C9A"/>
<path d="M716.50 408.90V711.90H873.40" fill="none" stroke="#474747" stroke-width="1.1"/>
<path d="M710.30 408.90H716.50M710.30 423.33H716.50M710.30 437.76H716.50M710.30 452.19H716.50M710.30 466.62H716.50M710.30 481.05H716.50M710.30 495.48H716.50M710.30 509.91H716.50M710.30 524.34H716.50M710.30 538.77H716.50M710.30 553.20H716.50M710.30 567.63H716.50M710.30 582.06H716.50M710.30 596.49H716.50M710.30 610.92H716.50M710.30 625.35H716.50M710.30 639.78H716.50M710.30 654.21H716.50M710.30 668.64H716.50M710.30 683.07H716.50M710.30 697.50H716.50M710.30 711.93H716.50M716.50 711.90V718.40M738.84 711.90V718.40M766.77 711.90V718.40M783.53 711.90V718.40M794.70 711.90V718.40M805.87 711.90V718.40M822.63 711.90V718.40M850.56 711.90V718.40M872.90 711.90V718.40" fill="none" stroke="#474747" stroke-width="1.1"/>
<text x="739.60" y="396.70" font-size="12.4" font-weight="normal" font-style="italic" textLength="108.10" lengthAdjust="spacingAndGlyphs" xml:space="preserve" stroke="#3a3a3a" stroke-width="0.42">Neisseria meningitidis</text>
<rect x="964.96" y="410.81" width="33.53" height="10.60" fill="#7ED0C0"/>
<rect x="965.22" y="425.25" width="34.05" height="10.60" fill="#7ED0C0"/>
<rect x="951.08" y="439.68" width="60.25" height="10.60" fill="#7ED0C0"/>
<rect x="976.23" y="454.11" width="13.36" height="10.60" fill="#7ED0C0"/>
<rect x="980.42" y="468.54" width="5.50" height="10.60" fill="#7ED0C0"/>
<rect x="981.46" y="482.96" width="3.93" height="10.60" fill="#7ED0C0"/>
<rect x="981.73" y="497.39" width="3.67" height="10.60" fill="#7ED0C0"/>
<rect x="981.73" y="511.82" width="3.67" height="10.60" fill="#7ED0C0"/>
<rect x="981.73" y="526.25" width="3.67" height="10.60" fill="#7ED0C0"/>
<rect x="981.73" y="540.68" width="3.67" height="10.60" fill="#7ED0C0"/>
<rect x="981.46" y="555.12" width="4.19" height="10.60" fill="#7ED0C0"/>
<rect x="980.94" y="569.54" width="4.98" height="10.60" fill="#7ED0C0"/>
<rect x="980.42" y="583.97" width="5.76" height="10.60" fill="#7ED0C0"/>
<rect x="979.63" y="598.40" width="7.33" height="10.60" fill="#7ED0C0"/>
<rect x="978.85" y="612.83" width="8.91" height="10.60" fill="#7ED0C0"/>
<rect x="978.06" y="627.26" width="10.48" height="10.60" fill="#7ED0C0"/>
<rect x="979.11" y="641.69" width="8.91" height="10.60" fill="#7ED0C0"/>
<rect x="979.37" y="656.12" width="8.64" height="10.60" fill="#7ED0C0"/>
<rect x="979.63" y="670.55" width="8.91" height="10.60" fill="#7ED0C0"/>
<rect x="981.46" y="684.98" width="5.50" height="10.60" fill="#7ED0C0"/>
<rect x="982.25" y="699.41" width="3.67" height="10.60" fill="#7ED0C0"/>
<line x1="983.60" y1="408.90" x2="983.60" y2="711.90" stroke="#3d3d3d" stroke-width="1" stroke-dasharray="2.8 2.9"/>
<path d="M905.40 408.90V711.90H1062.30" fill="none" stroke="#474747" stroke-width="1.1"/>
<path d="M899.20 408.90H905.40M899.20 423.33H905.40M899.20 437.76H905.40M899.20 452.19H905.40M899.20 466.62H905.40M899.20 481.05H905.40M899.20 495.48H905.40M899.20 509.91H905.40M899.20 524.34H905.40M899.20 538.77H905.40M899.20 553.20H905.40M899.20 567.63H905.40M899.20 582.06H905.40M899.20 596.49H905.40M899.20 610.92H905.40M899.20 625.35H905.40M899.20 639.78H905.40M899.20 654.21H905.40M899.20 668.64H905.40M899.20 683.07H905.40M899.20 697.50H905.40M899.20 711.93H905.40M905.40 711.90V718.40M927.74 711.90V718.40M955.67 711.90V718.40M972.43 711.90V718.40M983.60 711.90V718.40M994.77 711.90V718.40M1011.53 711.90V718.40M1039.46 711.90V718.40M1061.80 711.90V718.40" fill="none" stroke="#474747" stroke-width="1.1"/>
<text x="914.80" y="396.70" font-size="12.4" font-weight="normal" font-style="normal" textLength="77.58" lengthAdjust="spacingAndGlyphs" xml:space="preserve" stroke="#3a3a3a" stroke-width="0.42">Non-typhoidal </text><text x="992.38" y="396.70" font-size="12.4" font-weight="normal" font-style="italic" textLength="58.52" lengthAdjust="spacingAndGlyphs" xml:space="preserve" stroke="#3a3a3a" stroke-width="0.42">Salmonella</text>
<line x1="228.40" y1="761.60" x2="228.40" y2="1064.60" stroke="#3d3d3d" stroke-width="1" stroke-dasharray="2.8 2.9"/>
<rect x="150.24" y="763.51" width="142.24" height="10.60" fill="#5A55A5"/>
<rect x="157.05" y="777.94" width="137.78" height="10.60" fill="#5A55A5"/>
<rect x="168.05" y="792.38" width="116.30" height="10.60" fill="#5A55A5"/>
<rect x="214.94" y="806.80" width="24.62" height="10.60" fill="#5A55A5"/>
<rect x="219.92" y="821.24" width="15.19" height="10.60" fill="#5A55A5"/>
<rect x="220.18" y="835.66" width="14.93" height="10.60" fill="#5A55A5"/>
<rect x="220.96" y="850.10" width="13.36" height="10.60" fill="#5A55A5"/>
<rect x="221.23" y="864.52" width="13.10" height="10.60" fill="#5A55A5"/>
<rect x="219.39" y="878.95" width="15.19" height="10.60" fill="#5A55A5"/>
<rect x="217.56" y="893.38" width="18.07" height="10.60" fill="#5A55A5"/>
<rect x="214.42" y="907.82" width="22.53" height="10.60" fill="#5A55A5"/>
<rect x="209.96" y="922.25" width="29.86" height="10.60" fill="#5A55A5"/>
<rect x="203.41" y="936.67" width="41.39" height="10.60" fill="#5A55A5"/>
<rect x="196.08" y="951.11" width="54.22" height="10.60" fill="#5A55A5"/>
<rect x="186.91" y="965.53" width="71.51" height="10.60" fill="#5A55A5"/>
<rect x="177.22" y="979.96" width="90.89" height="10.60" fill="#5A55A5"/>
<rect x="173.29" y="994.39" width="101.90" height="10.60" fill="#5A55A5"/>
<rect x="171.72" y="1008.83" width="111.33" height="10.60" fill="#5A55A5"/>
<rect x="171.19" y="1023.25" width="122.33" height="10.60" fill="#5A55A5"/>
<rect x="185.08" y="1037.68" width="97.18" height="10.60" fill="#5A55A5"/>
<rect x="199.22" y="1052.12" width="80.68" height="10.60" fill="#5A55A5"/>
<path d="M150.20 761.60V1064.60H312.60" fill="none" stroke="#474747" stroke-width="1.1"/>
<path d="M144.00 761.60H150.20M144.00 776.03H150.20M144.00 790.46H150.20M144.00 804.89H150.20M144.00 819.32H150.20M144.00 833.75H150.20M144.00 848.18H150.20M144.00 862.61H150.20M144.00 877.04H150.20M144.00 891.47H150.20M144.00 905.90H150.20M144.00 920.33H150.20M144.00 934.76H150.20M144.00 949.19H150.20M144.00 963.62H150.20M144.00 978.05H150.20M144.00 992.48H150.20M144.00 1006.91H150.20M144.00 1021.34H150.20M144.00 1035.77H150.20M144.00 1050.20H150.20M144.00 1064.63H150.20M150.20 1064.60V1071.10M172.54 1064.60V1071.10M200.47 1064.60V1071.10M217.23 1064.60V1071.10M228.40 1064.60V1071.10M239.57 1064.60V1071.10M256.33 1064.60V1071.10M284.26 1064.60V1071.10M306.60 1064.60V1071.10" fill="none" stroke="#474747" stroke-width="1.1"/>
<text x="212.60" y="749.40" font-size="12.4" font-weight="normal" font-style="normal" textLength="30.60" lengthAdjust="spacingAndGlyphs" xml:space="preserve" stroke="#3a3a3a" stroke-width="0.42">Other</text>
<text x="61.50" y="773.02" font-size="12" textLength="79.70" lengthAdjust="spacingAndGlyphs">Neonatal period</text>
<text x="36.90" y="787.45" font-size="12" textLength="104.30" lengthAdjust="spacingAndGlyphs">Post-neonatal period</text>
<text x="124.40" y="801.88" font-size="12" textLength="16.80" lengthAdjust="spacingAndGlyphs">1–4</text>
<text x="123.30" y="816.31" font-size="12" textLength="17.90" lengthAdjust="spacingAndGlyphs">5–9</text>
<text x="110.20" y="830.74" font-size="12" textLength="31.00" lengthAdjust="spacingAndGlyphs">10–14</text>
<text x="110.20" y="845.17" font-size="12" textLength="31.00" lengthAdjust="spacingAndGlyphs">15–19</text>
<text x="110.20" y="859.60" font-size="12" textLength="31.00" lengthAdjust="spacingAndGlyphs">20–24</text>
<text x="110.20" y="874.03" font-size="12" textLength="31.00" lengthAdjust="spacingAndGlyphs">25–29</text>
<text x="110.20" y="888.46" font-size="12" textLength="31.00" lengthAdjust="spacingAndGlyphs">30–34</text>
<text x="110.20" y="902.89" font-size="12" textLength="31.00" lengthAdjust="spacingAndGlyphs">35–39</text>
<text x="110.20" y="917.32" font-size="12" textLength="31.00" lengthAdjust="spacingAndGlyphs">40–44</text>
<text x="110.20" y="931.75" font-size="12" textLength="31.00" lengthAdjust="spacingAndGlyphs">45–49</text>
<text x="110.20" y="946.18" font-size="12" textLength="31.00" lengthAdjust="spacingAndGlyphs">50–54</text>
<text x="110.20" y="960.61" font-size="12" textLength="31.00" lengthAdjust="spacingAndGlyphs">55–59</text>
<text x="110.20" y="975.04" font-size="12" textLength="31.00" lengthAdjust="spacingAndGlyphs">60–64</text>
<text x="110.20" y="989.47" font-size="12" textLength="31.00" lengthAdjust="spacingAndGlyphs">65–69</text>
<text x="110.20" y="1003.90" font-size="12" textLength="31.00" lengthAdjust="spacingAndGlyphs">70–74</text>
<text x="110.20" y="1018.33" font-size="12" textLength="31.00" lengthAdjust="spacingAndGlyphs">75–79</text>
<text x="110.20" y="1032.76" font-size="12" textLength="31.00" lengthAdjust="spacingAndGlyphs">80–84</text>
<text x="110.20" y="1047.18" font-size="12" textLength="31.00" lengthAdjust="spacingAndGlyphs">85–89</text>
<text x="121.90" y="1061.62" font-size="12" textLength="19.30" lengthAdjust="spacingAndGlyphs">≥90</text>
<text transform="translate(25.4 912.40) rotate(-90)" font-size="12" text-anchor="middle" textLength="89.5" lengthAdjust="spacingAndGlyphs">Age group (years)</text>
<text transform="translate(156.60 1079.00) rotate(-45)" font-size="13" text-anchor="end">70000</text>
<text transform="translate(178.94 1079.00) rotate(-45)" font-size="13" text-anchor="end">50000</text>
<text transform="translate(206.87 1079.00) rotate(-45)" font-size="13" text-anchor="end">25000</text>
<text transform="translate(223.63 1079.00) rotate(-45)" font-size="13" text-anchor="end">10000</text>
<text transform="translate(234.80 1079.00) rotate(-45)" font-size="13" text-anchor="end">0</text>
<text transform="translate(245.97 1079.00) rotate(-45)" font-size="13" text-anchor="end">10000</text>
<text transform="translate(262.73 1079.00) rotate(-45)" font-size="13" text-anchor="end">25000</text>
<text transform="translate(290.66 1079.00) rotate(-45)" font-size="13" text-anchor="end">50000</text>
<text transform="translate(313.00 1079.00) rotate(-45)" font-size="13" text-anchor="end">70000</text>
<text x="228.40" y="1120.7" font-size="11.5" text-anchor="middle" textLength="89.8" lengthAdjust="spacingAndGlyphs">Number of deaths</text>
<rect x="373.82" y="763.51" width="77.54" height="10.60" fill="#A5D47A"/>
<rect x="406.30" y="777.94" width="22.00" height="10.60" fill="#A5D47A"/>
<rect x="410.75" y="792.38" width="13.10" height="10.60" fill="#A5D47A"/>
<rect x="416.25" y="806.80" width="2.62" height="10.60" fill="#A5D47A"/>
<rect x="416.25" y="821.24" width="2.62" height="10.60" fill="#A5D47A"/>
<rect x="416.25" y="835.66" width="2.62" height="10.60" fill="#A5D47A"/>
<rect x="416.25" y="850.10" width="2.62" height="10.60" fill="#A5D47A"/>
<rect x="416.25" y="864.52" width="2.62" height="10.60" fill="#A5D47A"/>
<rect x="414.16" y="878.95" width="5.24" height="10.60" fill="#A5D47A"/>
<rect x="412.85" y="893.38" width="7.07" height="10.60" fill="#A5D47A"/>
<rect x="411.27" y="907.82" width="9.43" height="10.60" fill="#A5D47A"/>
<rect x="408.39" y="922.25" width="14.15" height="10.60" fill="#A5D47A"/>
<rect x="402.37" y="936.67" width="24.10" height="10.60" fill="#A5D47A"/>
<rect x="396.87" y="951.11" width="33.01" height="10.60" fill="#A5D47A"/>
<rect x="391.10" y="965.53" width="43.22" height="10.60" fill="#A5D47A"/>
<rect x="385.87" y="979.96" width="53.96" height="10.60" fill="#A5D47A"/>
<rect x="381.41" y="994.39" width="63.13" height="10.60" fill="#A5D47A"/>
<rect x="381.67" y="1008.83" width="66.27" height="10.60" fill="#A5D47A"/>
<rect x="382.20" y="1023.25" width="70.73" height="10.60" fill="#A5D47A"/>
<rect x="391.10" y="1037.68" width="57.10" height="10.60" fill="#A5D47A"/>
<rect x="400.01" y="1052.12" width="48.20" height="10.60" fill="#A5D47A"/>
<line x1="417.30" y1="761.60" x2="417.30" y2="1064.60" stroke="#3d3d3d" stroke-width="1" stroke-dasharray="2.8 2.9"/>
<path d="M339.10 761.60V1064.60H496.00" fill="none" stroke="#474747" stroke-width="1.1"/>
<path d="M332.90 761.60H339.10M332.90 776.03H339.10M332.90 790.46H339.10M332.90 804.89H339.10M332.90 819.32H339.10M332.90 833.75H339.10M332.90 848.18H339.10M332.90 862.61H339.10M332.90 877.04H339.10M332.90 891.47H339.10M332.90 905.90H339.10M332.90 920.33H339.10M332.90 934.76H339.10M332.90 949.19H339.10M332.90 963.62H339.10M332.90 978.05H339.10M332.90 992.48H339.10M332.90 1006.91H339.10M332.90 1021.34H339.10M332.90 1035.77H339.10M332.90 1050.20H339.10M332.90 1064.63H339.10M339.10 1064.60V1071.10M361.44 1064.60V1071.10M389.37 1064.60V1071.10M406.13 1064.60V1071.10M417.30 1064.60V1071.10M428.47 1064.60V1071.10M445.23 1064.60V1071.10M473.16 1064.60V1071.10M495.50 1064.60V1071.10" fill="none" stroke="#474747" stroke-width="1.1"/>
<text x="352.70" y="749.40" font-size="12.4" font-weight="normal" font-style="italic" textLength="127.30" lengthAdjust="spacingAndGlyphs" xml:space="preserve" stroke="#3a3a3a" stroke-width="0.42">Pseudomonas aeruginosa</text>
<text transform="translate(345.50 1079.00) rotate(-45)" font-size="13" text-anchor="end">70000</text>
<text transform="translate(367.84 1079.00) rotate(-45)" font-size="13" text-anchor="end">50000</text>
<text transform="translate(395.77 1079.00) rotate(-45)" font-size="13" text-anchor="end">25000</text>
<text transform="translate(412.53 1079.00) rotate(-45)" font-size="13" text-anchor="end">10000</text>
<text transform="translate(423.70 1079.00) rotate(-45)" font-size="13" text-anchor="end">0</text>
<text transform="translate(434.87 1079.00) rotate(-45)" font-size="13" text-anchor="end">10000</text>
<text transform="translate(451.63 1079.00) rotate(-45)" font-size="13" text-anchor="end">25000</text>
<text transform="translate(479.56 1079.00) rotate(-45)" font-size="13" text-anchor="end">50000</text>
<text transform="translate(501.90 1079.00) rotate(-45)" font-size="13" text-anchor="end">70000</text>
<text x="417.30" y="1120.7" font-size="11.5" text-anchor="middle" textLength="89.8" lengthAdjust="spacingAndGlyphs">Number of deaths</text>
<line x1="605.00" y1="761.60" x2="605.00" y2="1064.60" stroke="#3d3d3d" stroke-width="1" stroke-dasharray="2.8 2.9"/>
<rect x="581.68" y="763.51" width="40.60" height="10.60" fill="#9B1548"/>
<rect x="600.80" y="777.94" width="7.33" height="10.60" fill="#9B1548"/>
<rect x="591.11" y="792.38" width="24.88" height="10.60" fill="#9B1548"/>
<rect x="589.01" y="806.80" width="28.81" height="10.60" fill="#9B1548"/>
<rect x="590.58" y="821.24" width="25.67" height="10.60" fill="#9B1548"/>
<rect x="594.25" y="835.66" width="19.12" height="10.60" fill="#9B1548"/>
<rect x="598.70" y="850.10" width="11.26" height="10.60" fill="#9B1548"/>
<rect x="601.06" y="864.52" width="7.07" height="10.60" fill="#9B1548"/>
<rect x="602.11" y="878.95" width="5.50" height="10.60" fill="#9B1548"/>
<rect x="602.37" y="893.38" width="4.72" height="10.60" fill="#9B1548"/>
<rect x="602.63" y="907.82" width="4.45" height="10.60" fill="#9B1548"/>
<rect x="602.37" y="922.25" width="4.98" height="10.60" fill="#9B1548"/>
<rect x="603.16" y="936.67" width="3.14" height="10.60" fill="#9B1548"/>
<rect x="603.16" y="951.11" width="3.14" height="10.60" fill="#9B1548"/>
<rect x="603.16" y="965.53" width="3.14" height="10.60" fill="#9B1548"/>
<rect x="603.16" y="979.96" width="3.14" height="10.60" fill="#9B1548"/>
<rect x="603.68" y="994.39" width="2.36" height="10.60" fill="#9B1548"/>
<rect x="603.94" y="1008.83" width="2.10" height="10.60" fill="#9B1548"/>
<rect x="604.20" y="1023.25" width="1.57" height="10.60" fill="#9B1548"/>
<rect x="604.46" y="1037.68" width="1.31" height="10.60" fill="#9B1548"/>
<rect x="604.73" y="1052.12" width="0.79" height="10.60" fill="#9B1548"/>
<path d="M526.80 761.60V1064.60H683.70" fill="none" stroke="#474747" stroke-width="1.1"/>
<path d="M520.60 761.60H526.80M520.60 776.03H526.80M520.60 790.46H526.80M520.60 804.89H526.80M520.60 819.32H526.80M520.60 833.75H526.80M520.60 848.18H526.80M520.60 862.61H526.80M520.60 877.04H526.80M520.60 891.47H526.80M520.60 905.90H526.80M520.60 920.33H526.80M520.60 934.76H526.80M520.60 949.19H526.80M520.60 963.62H526.80M520.60 978.05H526.80M520.60 992.48H526.80M520.60 1006.91H526.80M520.60 1021.34H526.80M520.60 1035.77H526.80M520.60 1050.20H526.80M520.60 1064.63H526.80M526.80 1064.60V1071.10M549.14 1064.60V1071.10M577.07 1064.60V1071.10M593.83 1064.60V1071.10M605.00 1064.60V1071.10M616.17 1064.60V1071.10M632.93 1064.60V1071.10M660.86 1064.60V1071.10M683.20 1064.60V1071.10" fill="none" stroke="#474747" stroke-width="1.1"/>
<text x="560.00" y="749.40" font-size="12.4" font-weight="normal" font-style="italic" textLength="56.75" lengthAdjust="spacingAndGlyphs" xml:space="preserve" stroke="#3a3a3a" stroke-width="0.42">Salmonella</text><text x="616.75" y="749.40" font-size="12.4" font-weight="normal" font-style="normal" textLength="30.85" lengthAdjust="spacingAndGlyphs" xml:space="preserve" stroke="#3a3a3a" stroke-width="0.42"> Typhi</text>
<text transform="translate(533.20 1079.00) rotate(-45)" font-size="13" text-anchor="end">70000</text>
<text transform="translate(555.54 1079.00) rotate(-45)" font-size="13" text-anchor="end">50000</text>
<text transform="translate(583.47 1079.00) rotate(-45)" font-size="13" text-anchor="end">25000</text>
<text transform="translate(600.23 1079.00) rotate(-45)" font-size="13" text-anchor="end">10000</text>
<text transform="translate(611.40 1079.00) rotate(-45)" font-size="13" text-anchor="end">0</text>
<text transform="translate(622.57 1079.00) rotate(-45)" font-size="13" text-anchor="end">10000</text>
<text transform="translate(639.33 1079.00) rotate(-45)" font-size="13" text-anchor="end">25000</text>
<text transform="translate(667.26 1079.00) rotate(-45)" font-size="13" text-anchor="end">50000</text>
<text transform="translate(689.60 1079.00) rotate(-45)" font-size="13" text-anchor="end">70000</text>
<text x="605.00" y="1120.7" font-size="11.5" text-anchor="middle" textLength="89.8" lengthAdjust="spacingAndGlyphs">Number of deaths</text>
<rect x="743.70" y="763.51" width="89.59" height="10.60" fill="#BEE2BE"/>
<rect x="768.32" y="777.94" width="51.34" height="10.60" fill="#BEE2BE"/>
<rect x="779.06" y="792.38" width="30.91" height="10.60" fill="#BEE2BE"/>
<rect x="790.32" y="806.80" width="7.33" height="10.60" fill="#BEE2BE"/>
<rect x="791.37" y="821.24" width="5.24" height="10.60" fill="#BEE2BE"/>
<rect x="790.58" y="835.66" width="6.81" height="10.60" fill="#BEE2BE"/>
<rect x="789.80" y="850.10" width="8.12" height="10.60" fill="#BEE2BE"/>
<rect x="789.01" y="864.52" width="9.17" height="10.60" fill="#BEE2BE"/>
<rect x="786.92" y="878.95" width="12.05" height="10.60" fill="#BEE2BE"/>
<rect x="784.03" y="893.38" width="15.98" height="10.60" fill="#BEE2BE"/>
<rect x="780.37" y="907.82" width="22.00" height="10.60" fill="#BEE2BE"/>
<rect x="773.82" y="922.25" width="31.70" height="10.60" fill="#BEE2BE"/>
<rect x="763.60" y="936.67" width="48.46" height="10.60" fill="#BEE2BE"/>
<rect x="753.65" y="951.11" width="64.96" height="10.60" fill="#BEE2BE"/>
<rect x="740.81" y="965.53" width="86.97" height="10.60" fill="#BEE2BE"/>
<rect x="729.55" y="979.96" width="108.97" height="10.60" fill="#BEE2BE"/>
<rect x="724.05" y="994.39" width="121.28" height="10.60" fill="#BEE2BE"/>
<rect x="723.53" y="1008.83" width="128.35" height="10.60" fill="#BEE2BE"/>
<rect x="720.38" y="1023.25" width="144.33" height="10.60" fill="#BEE2BE"/>
<rect x="734.79" y="1037.68" width="125.73" height="10.60" fill="#BEE2BE"/>
<rect x="751.29" y="1052.12" width="117.35" height="10.60" fill="#BEE2BE"/>
<line x1="794.70" y1="761.60" x2="794.70" y2="1064.60" stroke="#3d3d3d" stroke-width="1" stroke-dasharray="2.8 2.9"/>
<path d="M716.50 761.60V1064.60H873.40" fill="none" stroke="#474747" stroke-width="1.1"/>
<path d="M710.30 761.60H716.50M710.30 776.03H716.50M710.30 790.46H716.50M710.30 804.89H716.50M710.30 819.32H716.50M710.30 833.75H716.50M710.30 848.18H716.50M710.30 862.61H716.50M710.30 877.04H716.50M710.30 891.47H716.50M710.30 905.90H716.50M710.30 920.33H716.50M710.30 934.76H716.50M710.30 949.19H716.50M710.30 963.62H716.50M710.30 978.05H716.50M710.30 992.48H716.50M710.30 1006.91H716.50M710.30 1021.34H716.50M710.30 1035.77H716.50M710.30 1050.20H716.50M710.30 1064.63H716.50M716.50 1064.60V1071.10M738.84 1064.60V1071.10M766.77 1064.60V1071.10M783.53 1064.60V1071.10M794.70 1064.60V1071.10M805.87 1064.60V1071.10M822.63 1064.60V1071.10M850.56 1064.60V1071.10M872.90 1064.60V1071.10" fill="none" stroke="#474747" stroke-width="1.1"/>
<text x="737.00" y="749.40" font-size="12.4" font-weight="normal" font-style="italic" textLength="113.60" lengthAdjust="spacingAndGlyphs" xml:space="preserve" stroke="#3a3a3a" stroke-width="0.42">Staphylococcus aureus</text>
<text transform="translate(722.90 1079.00) rotate(-45)" font-size="13" text-anchor="end">70000</text>
<text transform="translate(745.24 1079.00) rotate(-45)" font-size="13" text-anchor="end">50000</text>
<text transform="translate(773.17 1079.00) rotate(-45)" font-size="13" text-anchor="end">25000</text>
<text transform="translate(789.93 1079.00) rotate(-45)" font-size="13" text-anchor="end">10000</text>
<text transform="translate(801.10 1079.00) rotate(-45)" font-size="13" text-anchor="end">0</text>
<text transform="translate(812.27 1079.00) rotate(-45)" font-size="13" text-anchor="end">10000</text>
<text transform="translate(829.03 1079.00) rotate(-45)" font-size="13" text-anchor="end">25000</text>
<text transform="translate(856.96 1079.00) rotate(-45)" font-size="13" text-anchor="end">50000</text>
<text transform="translate(879.30 1079.00) rotate(-45)" font-size="13" text-anchor="end">70000</text>
<text x="794.70" y="1120.7" font-size="11.5" text-anchor="middle" textLength="89.8" lengthAdjust="spacingAndGlyphs">Number of deaths</text>
<rect x="931.96" y="763.51" width="91.42" height="10.60" fill="#D2D4D4"/>
<rect x="905.76" y="777.94" width="157.17" height="10.60" fill="#D2D4D4"/>
<rect x="937.46" y="792.38" width="92.73" height="10.60" fill="#D2D4D4"/>
<rect x="976.23" y="806.80" width="13.88" height="10.60" fill="#D2D4D4"/>
<rect x="979.11" y="821.24" width="8.12" height="10.60" fill="#D2D4D4"/>
<rect x="979.11" y="835.66" width="7.86" height="10.60" fill="#D2D4D4"/>
<rect x="978.32" y="850.10" width="8.91" height="10.60" fill="#D2D4D4"/>
<rect x="977.80" y="864.52" width="9.69" height="10.60" fill="#D2D4D4"/>
<rect x="976.49" y="878.95" width="11.53" height="10.60" fill="#D2D4D4"/>
<rect x="974.65" y="893.38" width="14.15" height="10.60" fill="#D2D4D4"/>
<rect x="972.82" y="907.82" width="17.29" height="10.60" fill="#D2D4D4"/>
<rect x="968.89" y="922.25" width="22.79" height="10.60" fill="#D2D4D4"/>
<rect x="969.42" y="936.67" width="22.79" height="10.60" fill="#D2D4D4"/>
<rect x="964.18" y="951.11" width="31.17" height="10.60" fill="#D2D4D4"/>
<rect x="957.10" y="965.53" width="43.74" height="10.60" fill="#D2D4D4"/>
<rect x="950.03" y="979.96" width="57.37" height="10.60" fill="#D2D4D4"/>
<rect x="950.03" y="994.39" width="57.89" height="10.60" fill="#D2D4D4"/>
<rect x="947.94" y="1008.83" width="64.18" height="10.60" fill="#D2D4D4"/>
<rect x="945.32" y="1023.25" width="73.87" height="10.60" fill="#D2D4D4"/>
<rect x="952.91" y="1037.68" width="62.87" height="10.60" fill="#D2D4D4"/>
<rect x="962.34" y="1052.12" width="56.06" height="10.60" fill="#D2D4D4"/>
<line x1="983.60" y1="761.60" x2="983.60" y2="1064.60" stroke="#3d3d3d" stroke-width="1" stroke-dasharray="2.8 2.9"/>
<path d="M905.40 761.60V1064.60H1062.30" fill="none" stroke="#474747" stroke-width="1.1"/>
<path d="M899.20 761.60H905.40M899.20 776.03H905.40M899.20 790.46H905.40M899.20 804.89H905.40M899.20 819.32H905.40M899.20 833.75H905.40M899.20 848.18H905.40M899.20 862.61H905.40M899.20 877.04H905.40M899.20 891.47H905.40M899.20 905.90H905.40M899.20 920.33H905.40M899.20 934.76H905.40M899.20 949.19H905.40M899.20 963.62H905.40M899.20 978.05H905.40M899.20 992.48H905.40M899.20 1006.91H905.40M899.20 1021.34H905.40M899.20 1035.77H905.40M899.20 1050.20H905.40M899.20 1064.63H905.40M905.40 1064.60V1071.10M927.74 1064.60V1071.10M955.67 1064.60V1071.10M972.43 1064.60V1071.10M983.60 1064.60V1071.10M994.77 1064.60V1071.10M1011.53 1064.60V1071.10M1039.46 1064.60V1071.10M1061.80 1064.60V1071.10" fill="none" stroke="#474747" stroke-width="1.1"/>
<text x="915.70" y="749.40" font-size="12.4" font-weight="normal" font-style="italic" textLength="134.40" lengthAdjust="spacingAndGlyphs" xml:space="preserve" stroke="#3a3a3a" stroke-width="0.42">Streptococcus pneumoniae</text>
<text transform="translate(911.80 1079.00) rotate(-45)" font-size="13" text-anchor="end">70000</text>
<text transform="translate(934.14 1079.00) rotate(-45)" font-size="13" text-anchor="end">50000</text>
<text transform="translate(962.07 1079.00) rotate(-45)" font-size="13" text-anchor="end">25000</text>
<text transform="translate(978.83 1079.00) rotate(-45)" font-size="13" text-anchor="end">10000</text>
<text transform="translate(990.00 1079.00) rotate(-45)" font-size="13" text-anchor="end">0</text>
<text transform="translate(1001.17 1079.00) rotate(-45)" font-size="13" text-anchor="end">10000</text>
<text transform="translate(1017.93 1079.00) rotate(-45)" font-size="13" text-anchor="end">25000</text>
<text transform="translate(1045.86 1079.00) rotate(-45)" font-size="13" text-anchor="end">50000</text>
<text transform="translate(1068.20 1079.00) rotate(-45)" font-size="13" text-anchor="end">70000</text>
<text x="983.60" y="1120.7" font-size="11.5" text-anchor="middle" textLength="89.8" lengthAdjust="spacingAndGlyphs">Number of deaths</text>
<text x="5.20" y="1156.70" font-size="14.4" font-weight="normal" font-style="italic" textLength="35.73" lengthAdjust="spacingAndGlyphs" xml:space="preserve" stroke="#3a3a3a" stroke-width="0.45">Figure</text><text x="40.93" y="1156.70" font-size="14.4" font-weight="normal" font-style="normal" textLength="382.67" lengthAdjust="spacingAndGlyphs" xml:space="preserve" stroke="#3a3a3a" stroke-width="0.45"> 5: Global number of deaths, by pathogen, age, and sex groups, 2019</text>
<text x="5.00" y="1174.30" font-size="14.0" font-weight="normal" font-style="normal" textLength="1025.00" lengthAdjust="spacingAndGlyphs" xml:space="preserve" stroke="#3a3a3a" stroke-width="0.2">Data are presented for the 14 pathogens with the largest number of global deaths; the Other group comprises the additional 19 bacteria estimated in this study. Neonatal=0 days to 27 days old.</text>
<text x="5.00" y="1191.90" font-size="14.0" font-weight="normal" font-style="normal" textLength="201.26" lengthAdjust="spacingAndGlyphs" xml:space="preserve" stroke="#3a3a3a" stroke-width="0.2">Post-neonatal=28 days to &lt;1 year old. </text><text x="206.26" y="1191.90" font-size="14.0" font-weight="normal" font-style="italic" textLength="57.96" lengthAdjust="spacingAndGlyphs" xml:space="preserve" stroke="#3a3a3a" stroke-width="0.2">Salmonella</text><text x="264.22" y="1191.90" font-size="14.0" font-weight="normal" font-style="normal" textLength="37.89" lengthAdjust="spacingAndGlyphs" xml:space="preserve" stroke="#3a3a3a" stroke-width="0.2"> Typhi=</text><text x="302.11" y="1191.90" font-size="14.0" font-weight="normal" font-style="italic" textLength="102.90" lengthAdjust="spacingAndGlyphs" xml:space="preserve" stroke="#3a3a3a" stroke-width="0.2">Salmonella enterica</text><text x="405.01" y="1191.90" font-size="14.0" font-weight="normal" font-style="normal" textLength="82.49" lengthAdjust="spacingAndGlyphs" xml:space="preserve" stroke="#3a3a3a" stroke-width="0.2"> serotype Typhi.</text>
</svg></body></html>
